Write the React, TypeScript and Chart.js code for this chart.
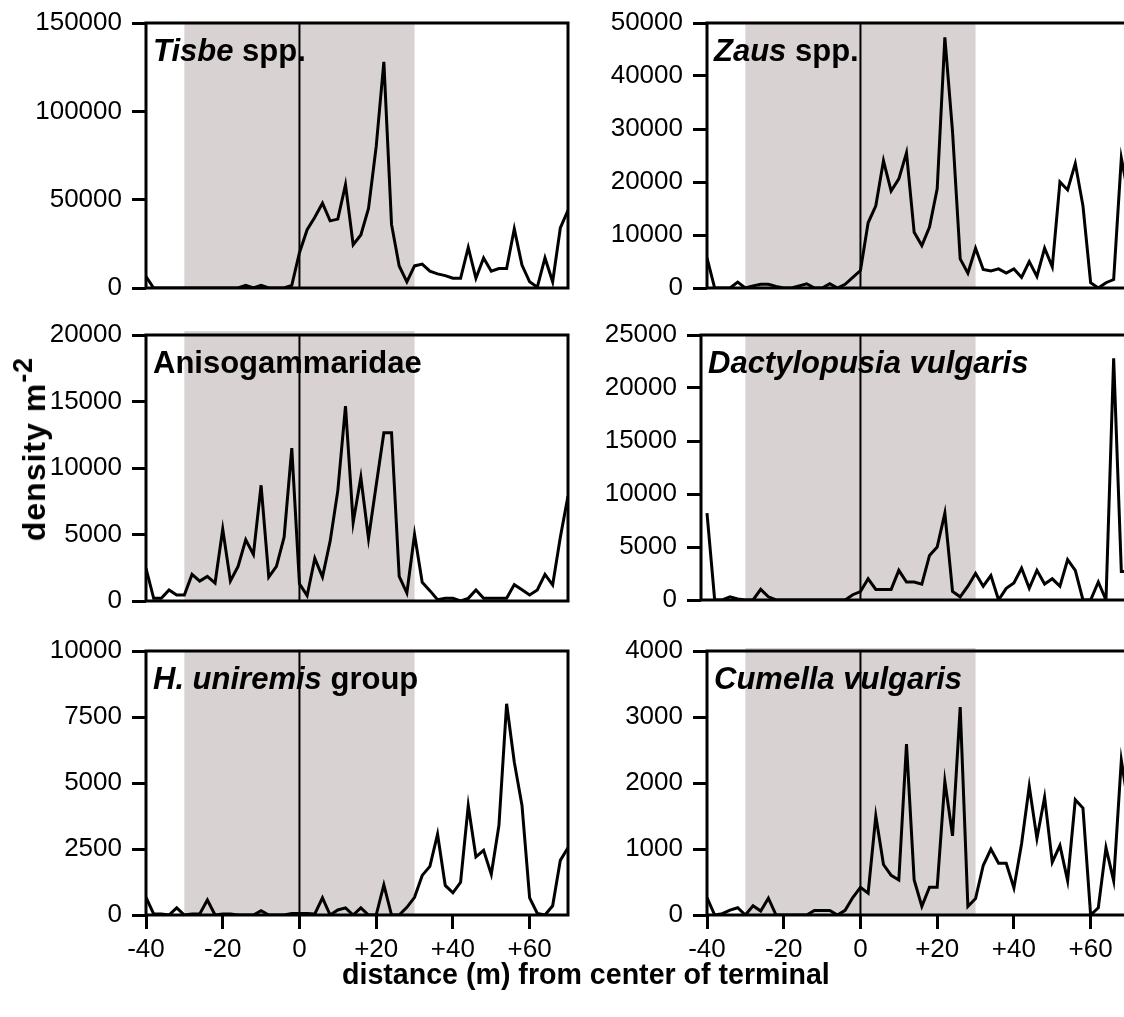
import React, { useEffect, useRef } from "react";
import { Chart, registerables } from "chart.js";

Chart.register(...registerables);

// ---------- data ----------
const DISTANCE = [
  -40, -38, -36, -34, -32, -30, -28, -26, -24, -22,
  -20, -18, -16, -14, -12, -10, -8, -6, -4, -2,
  0, 2, 4, 6, 8, 10, 12, 14, 16, 18,
  20, 22, 24, 26, 28, 30, 32, 34, 36, 38,
  40, 42, 44, 46, 48, 50, 52, 54, 56, 58,
  60, 62, 64, 66, 68, 70,
];

const TISBE = [
  6500, 0, 0, 0, 0, 0, 0, 0, 0, 0,
  0, 0, 0, 1500, 0, 1500, 0, 0, 0, 1500,
  20000, 33000, 40000, 48000, 38000, 39000, 58500, 24500, 30000, 45000,
  80000, 128000, 36000, 12500, 3500, 12500, 13500, 9500, 8000, 7000,
  5500, 5500, 23000, 5500, 17000, 9500, 11000, 11000, 33500, 13000,
  3500, 500, 17000, 3500, 34000, 44000,
];

const ZAUS = [
  5700, 0, 0, 0, 1100, 0, 400, 700, 700, 300,
  0, 0, 400, 800, 0, 0, 800, 0, 700, 2000,
  3300, 12300, 15500, 24000, 18300, 20600, 25500, 10500, 8000, 11500,
  18700, 47300, 29500, 5500, 2800, 7500, 3500, 3200, 3600, 2800,
  3600, 2000, 5000, 2200, 7500, 4000, 20000, 18500, 23500, 15500,
  1000, 0, 1000, 1600, 24500, 17000,
];

const ANISOGAMMARIDAE = [
  2460, 200, 200, 830, 450, 450, 2000, 1500, 1850, 1350,
  5400, 1500, 2600, 4600, 3500, 8700, 1800, 2600, 4800, 11500,
  1300, 400, 3200, 1800, 4500, 8300, 14650, 5900, 9300, 4700,
  8700, 12650, 12650, 1850, 600, 5000, 1400, 780, 100, 200,
  200, 0, 200, 830, 200, 200, 200, 200, 1230, 850,
  450, 830, 2000, 1200, 4800, 7900,
];

const DACTYLOPUSIA = [
  8200, 0, 0, 300, 100, 0, 0, 1000, 300, 0,
  0, 0, 0, 0, 0, 0, 0, 0, 0, 500,
  800, 2000, 1000, 1000, 1000, 2800, 1700, 1700, 1500, 4200,
  5000, 8200, 800, 300, 1300, 2500, 1300, 2300, 0, 1100,
  1600, 3000, 1100, 2800, 1500, 2000, 1300, 3800, 2800, 0,
  0, 1700, 0, 22800, 2700, 2700,
];

const H_UNIREMIS = [
  670, 40, 40, 0, 270, 0, 40, 40, 570, 0,
  40, 40, 0, 0, 0, 160, 0, 0, 0, 60,
  60, 60, 40, 650, 0, 190, 270, 0, 270, 0,
  0, 1140, 0, 0, 290, 670, 1500, 1840, 3060, 1120,
  840, 1240, 4140, 2200, 2450, 1540, 3400, 8000, 5790, 4160,
  650, 60, 0, 350, 2070, 2550,
];

const CUMELLA = [
  265, 0, 20, 75, 110, 0, 140, 60, 255, 0,
  0, 0, 0, 0, 70, 70, 70, 0, 70, 265,
  420, 330, 1500, 765, 600, 530, 2590, 530, 130, 420,
  420, 2025, 1200, 3150, 130, 250, 750, 1000, 785, 785,
  410, 1080, 1950, 1160, 1785, 800, 1055, 520, 1745, 1620,
  0, 110, 1020, 520, 2345, 1600,
];

const X_TICKS = [-40, -20, 0, 20, 40, 60];
const X_TICK_LABELS = ["-40", "-20", "0", "+20", "+40", "+60"];

const TISBE_Y_TICKS = [0, 50000, 100000, 150000];
const ZAUS_Y_TICKS = [0, 10000, 20000, 30000, 40000, 50000];
const ANISO_Y_TICKS = [0, 5000, 10000, 15000, 20000];
const DACTY_Y_TICKS = [0, 5000, 10000, 15000, 20000, 25000];
const HUNI_Y_TICKS = [0, 2500, 5000, 7500, 10000];
const CUMELLA_Y_TICKS = [0, 1000, 2000, 3000, 4000];

const X_MIN = -40;
const X_MAX = 70;
const SHADE_FROM = -30;
const SHADE_TO = 30;
const CENTER_LINE = 0;

const Y_TITLE = "density m";
const Y_TITLE_SUP = "-2";
const X_TITLE = "distance (m) from center of terminal";

// ---------- styling / layout ----------
const FONT = '"Liberation Sans", Arial, Helvetica, sans-serif';
const SHADE_COLOR = "#d9d2d3";
const ML = 140;
const MT = 34;
const MR = 10;
const MB = 34;
const MB_X = 80;
const TICK_LEN = 14;

type Part = { text: string; italic: boolean };
type PanelSpec = {
  id: string;
  values: number[];
  yTicks: number[];
  label: Part[];
  left: number;
  right: number;
  top: number;
  bottom: number;
  xMin: number;
  showX: boolean;
  shadeOver: number;
};

const RIGHT_PX_PER_UNIT = (1129 - 707) / (X_MAX - X_MIN);

const PANELS: PanelSpec[] = [
  {
    id: "tisbe", values: TISBE, yTicks: TISBE_Y_TICKS,
    label: [{ text: "Tisbe", italic: true }, { text: " spp.", italic: false }],
    left: 146, right: 568, top: 23, bottom: 288, xMin: X_MIN, showX: false, shadeOver: 0,
  },
  {
    id: "zaus", values: ZAUS, yTicks: ZAUS_Y_TICKS,
    label: [{ text: "Zaus", italic: true }, { text: " spp.", italic: false }],
    left: 707, right: 1129, top: 23, bottom: 288, xMin: X_MIN, showX: false, shadeOver: 0,
  },
  {
    id: "aniso", values: ANISOGAMMARIDAE, yTicks: ANISO_Y_TICKS,
    label: [{ text: "Anisogammaridae", italic: false }],
    left: 146, right: 568, top: 335, bottom: 601, xMin: X_MIN, showX: false, shadeOver: 4,
  },
  {
    id: "dacty", values: DACTYLOPUSIA, yTicks: DACTY_Y_TICKS,
    label: [{ text: "Dactylopusia vulgaris", italic: true }],
    left: 701, right: 1129, top: 335, bottom: 600,
    xMin: X_MAX - (1129 - 701) / RIGHT_PX_PER_UNIT, showX: false, shadeOver: 0,
  },
  {
    id: "huni", values: H_UNIREMIS, yTicks: HUNI_Y_TICKS,
    label: [{ text: "H. uniremis", italic: true }, { text: " group", italic: false }],
    left: 146, right: 568, top: 651, bottom: 915, xMin: X_MIN, showX: true, shadeOver: 0,
  },
  {
    id: "cumella", values: CUMELLA, yTicks: CUMELLA_Y_TICKS,
    label: [{ text: "Cumella vulgaris", italic: true }],
    left: 707, right: 1129, top: 651, bottom: 915, xMin: X_MIN, showX: true, shadeOver: 3,
  },
];

const panelDecor = {
  id: "panelDecor",
  beforeDatasetsDraw(chart: any, _args: any, opts: any) {
    const { ctx, chartArea: a, scales } = chart;
    const xs = scales.x;
    const x1 = xs.getPixelForValue(SHADE_FROM);
    const x2 = xs.getPixelForValue(SHADE_TO);
    const over = (opts && opts.over) || 0;
    ctx.save();
    ctx.fillStyle = SHADE_COLOR;
    ctx.fillRect(x1, a.top - over, x2 - x1, a.bottom - a.top + over);
    const x0 = xs.getPixelForValue(CENTER_LINE);
    ctx.strokeStyle = "#000";
    ctx.lineWidth = 2;
    ctx.beginPath();
    ctx.moveTo(x0, a.top);
    ctx.lineTo(x0, a.bottom);
    ctx.stroke();
    ctx.restore();
  },
  afterDraw(chart: any) {
    const { ctx, chartArea: a } = chart;
    ctx.save();
    ctx.strokeStyle = "#000";
    ctx.lineWidth = 3;
    ctx.strokeRect(a.left, a.top, a.right - a.left, a.bottom - a.top);
    ctx.restore();
  },
};

function Panel({ spec }: { spec: PanelSpec }) {
  const ref = useRef<HTMLCanvasElement | null>(null);
  const w = ML + (spec.right - spec.left) + MR;
  const h = MT + (spec.bottom - spec.top) + (spec.showX ? MB_X : MB);

  useEffect(() => {
    if (!ref.current) return;
    const tickFont = { family: FONT, size: 26 };
    const chart = new Chart(ref.current, {
      type: "line",
      data: {
        datasets: [
          {
            data: DISTANCE.map((x, i) => ({ x, y: spec.values[i] })),
            borderColor: "#000",
            borderWidth: 3,
            pointRadius: 0,
            tension: 0,
            fill: false,
            borderJoinStyle: "miter",
          } as any,
        ],
      },
      options: {
        responsive: false,
        maintainAspectRatio: false,
        animation: false,
        devicePixelRatio: 1,
        events: [],
        layout: { padding: { top: MT, right: MR, bottom: spec.showX ? 0 : MB, left: 0 } },
        plugins: {
          legend: { display: false },
          tooltip: { enabled: false },
          panelDecor: { over: spec.shadeOver },
        } as any,
        scales: {
          x: {
            type: "linear",
            min: spec.xMin,
            max: X_MAX,
            display: spec.showX,
            afterBuildTicks: (s: any) => {
              s.ticks = X_TICKS.map((v) => ({ value: v }));
            },
            afterFit: (s: any) => {
              if (spec.showX) s.height = MB_X;
            },
            border: { display: false },
            grid: {
              display: true,
              drawOnChartArea: false,
              drawTicks: true,
              tickLength: TICK_LEN,
              tickWidth: 3,
              tickColor: "#000",
            },
            ticks: {
              autoSkip: false,
              maxRotation: 0,
              padding: 5,
              color: "#000",
              font: tickFont,
              callback: (v: any) => {
                const i = X_TICKS.indexOf(Number(v));
                return i >= 0 ? X_TICK_LABELS[i] : "";
              },
            },
          },
          y: {
            type: "linear",
            min: 0,
            max: spec.yTicks[spec.yTicks.length - 1],
            afterBuildTicks: (s: any) => {
              s.ticks = spec.yTicks.map((v) => ({ value: v }));
            },
            afterFit: (s: any) => {
              s.width = ML;
            },
            border: { display: false },
            grid: {
              display: true,
              drawOnChartArea: false,
              drawTicks: true,
              tickLength: TICK_LEN,
              tickWidth: 3,
              tickColor: "#000",
            },
            ticks: {
              padding: 10,
              color: "#000",
              font: tickFont,
              callback: (v: any) => String(v),
            },
          },
        },
      } as any,
      plugins: [panelDecor as any],
    });
    return () => chart.destroy();
  }, []);

  return (
    <canvas
      ref={ref}
      width={w}
      height={h}
      style={{ position: "absolute", left: spec.left - ML, top: spec.top - MT, width: w, height: h }}
    />
  );
}

export default function App() {
  return (
    <div
      style={{
        position: "absolute",
        left: 0,
        top: 0,
        width: 1124,
        height: 1017,
        overflow: "hidden",
        background: "#fff",
        fontFamily: FONT,
        color: "#000",
      }}
    >
      {PANELS.map((p) => (
        <Panel key={p.id} spec={p} />
      ))}
      {PANELS.map((p) => (
        <div
          key={p.id + "-label"}
          style={{
            position: "absolute",
            left: p.left + 7,
            top: p.top + 12,
            font: `bold 31px ${FONT}`,
            lineHeight: "31px",
            whiteSpace: "pre",
          }}
        >
          {p.label.map((part, i) => (
            <span key={i} style={{ fontStyle: part.italic ? "italic" : "normal" }}>
              {part.text}
            </span>
          ))}
        </div>
      ))}
      <div
        style={{
          position: "absolute",
          left: 35,
          top: 449,
          transform: "translate(-50%, -50%) rotate(-90deg)",
          font: `bold 32px ${FONT}`,
          lineHeight: "32px",
          letterSpacing: 1,
          whiteSpace: "pre",
        }}
      >
        {Y_TITLE}
        <span style={{ fontSize: 27, position: "relative", top: -13 }}>{Y_TITLE_SUP}</span>
      </div>
      <div
        style={{
          position: "absolute",
          left: 342,
          top: 960,
          font: `bold 28.6px ${FONT}`,
          lineHeight: "29px",
          whiteSpace: "pre",
        }}
      >
        {X_TITLE}
      </div>
    </div>
  );
}
